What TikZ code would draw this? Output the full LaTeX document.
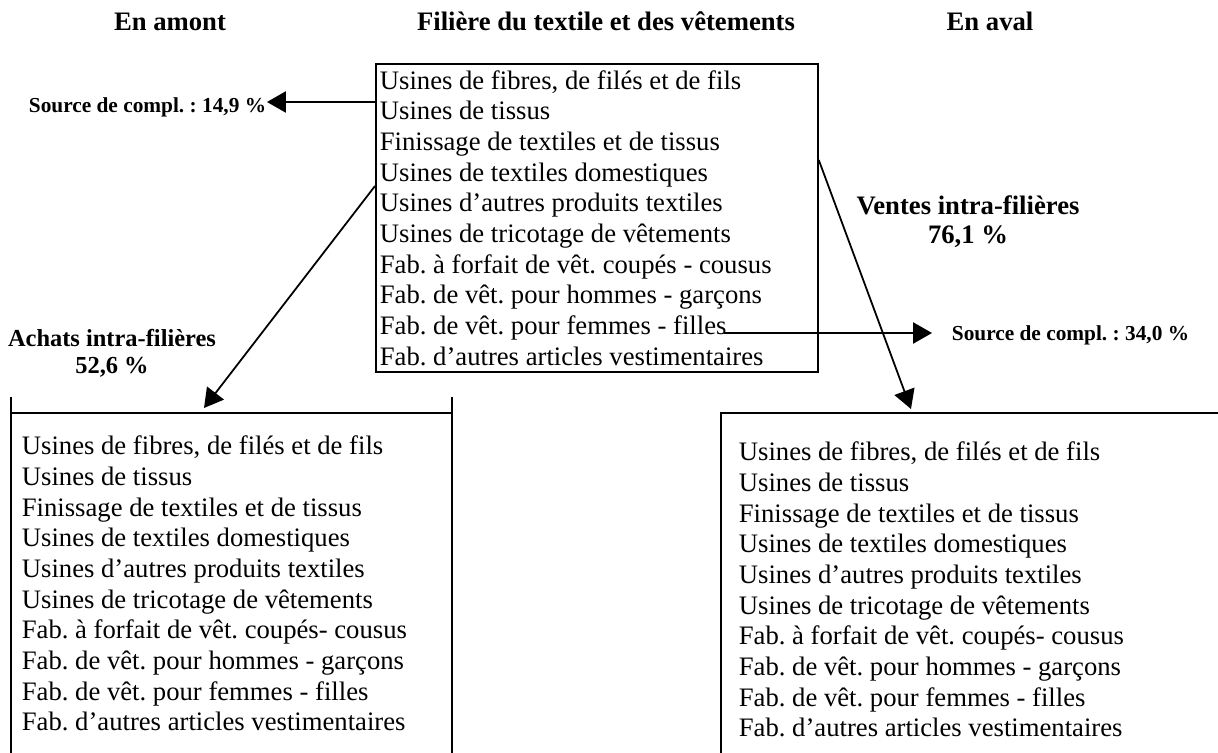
\documentclass[tikz,border=0pt]{standalone}
\usepackage{fontspec}
\setmainfont{Liberation Serif}
\usetikzlibrary{arrows.meta}
\frenchspacing

\newcommand{\usines}[1]{Usines de fibres, de filés et de fils\\
Usines de tissus\\
Finissage de textiles et de tissus\\
Usines de textiles domestiques\\
Usines d’autres produits textiles\\
Usines de tricotage de vêtements\\
Fab. à forfait de vêt. #1\\
Fab. de vêt. pour hommes - garçons\\
Fab. de vêt. pour femmes - filles\\
Fab. d’autres articles vestimentaires}

\begin{document}
\begin{tikzpicture}
        [>={Triangle[length=8.5pt,width=9.5pt]}, line width=0.8pt, x=0.45pt, y=-0.45pt,
         titre/.style={font=\fontsize{12}{13}\selectfont\bfseries, inner sep=0pt},
         note/.style={font=\fontsize{9.6}{11}\selectfont\bfseries, inner sep=0pt},
         etiquette/.style={font=\fontsize{11}{12.2}\selectfont\bfseries, align=center, inner sep=0pt},
         liste/.style={font=\fontsize{12}{13.8}\selectfont, align=flush left, inner sep=0pt},
         cadre/.style={line width=1.2pt}]
        \useasboundingbox (0, 0) rectangle (1218, 753);
        \clip (0, 0) rectangle (1218, 753);

        \node[titre, anchor=base] (amont) at (170, 31) {En amont};
        \node[titre, anchor=base] (filiere) at (606, 31) {Filière du textile et des vêtements};
        \node[titre, anchor=base] (aval) at (990, 31) {En aval};

        \node[liste, draw, anchor=north west, text width=195.3pt, inner xsep=1.8pt, inner ysep=2.2pt,
              minimum height=138.6pt] (centre) at (375, 63) {\usines{coupés - cousus}};
        \node[liste, anchor=north west] (listeamont) at (21, 435) {\usines{coupés- cousus}};
        \node[liste, anchor=north west] (listeaval) at (738, 441) {\usines{coupés- cousus}};

        \draw[cadre] (11, 397) -- (11, 760);
        \draw[cadre] (452, 397) -- (452, 760);
        \draw[cadre] (11, 413) -- (452, 413);
        \draw[cadre] (721, 760) -- (721, 413) -- (1230, 413);

        \node[note, anchor=base east] (sourceamont) at (267, 113) {Source de compl. : 14,9 \%};
        \node[note, anchor=base west] (sourceaval) at (951, 341) {Source de compl. : 34,0 \%};
        \node[etiquette, anchor=north] (achats) at (112, 328) {Achats intra-filières\\52,6 \%};
        \node[titre, align=center, anchor=north] (ventes) at (968, 195) {Ventes intra-filières\\76,1 \%};

        \coordinate (complamont) at (267, 102);
        \coordinate (complaval) at (932, 333);
        \coordinate (filles) at (724, 333);
        \coordinate (achatsdep) at (centre.west |- 0, 186);
        \coordinate (achatsfin) at (204, 408);
        \coordinate (ventesdep) at (centre.east |- 0, 160);
        \coordinate (ventesfin) at (911, 409);

        \path [->] (centre.west |- complamont) edge (complamont);
        \path [->] (filles) edge (complaval);
        \path [->] (achatsdep) edge (achatsfin);
        \path [->] (ventesdep) edge (ventesfin);
    \end{tikzpicture}
\end{document}
